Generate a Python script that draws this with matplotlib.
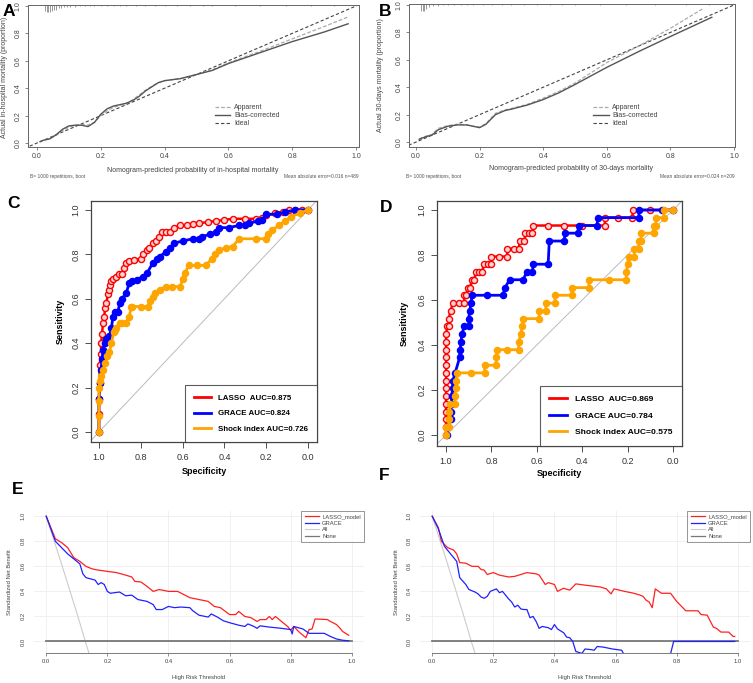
import matplotlib
matplotlib.use("Agg")
import matplotlib.pyplot as plt
from matplotlib.lines import Line2D
import numpy as np

plt.rcParams['font.family'] = ['Liberation Sans', 'DejaVu Sans']

W, H = 753, 683

# ---------------- calibration data (A: in-hospital, B: 30-days) ----------------
calA_x = [0.01, 0.02, 0.04, 0.06, 0.08, 0.10, 0.12, 0.14, 0.16, 0.18, 0.20, 0.22, 0.24, 0.26, 0.28,
          0.30, 0.32, 0.34, 0.36, 0.38, 0.40, 0.45, 0.50, 0.55, 0.60, 0.70, 0.80, 0.90, 0.975]
calA_bias = [0.01, 0.02, 0.03, 0.06, 0.10, 0.125, 0.13, 0.13, 0.12, 0.15, 0.21, 0.25, 0.27, 0.28, 0.29,
             0.31, 0.34, 0.38, 0.41, 0.44, 0.455, 0.47, 0.50, 0.53, 0.58, 0.66, 0.74, 0.81, 0.87]
calA_app = [0.01, 0.02, 0.035, 0.055, 0.09, 0.115, 0.13, 0.135, 0.13, 0.15, 0.20, 0.235, 0.26, 0.275, 0.29,
            0.315, 0.35, 0.385, 0.415, 0.44, 0.455, 0.47, 0.50, 0.535, 0.585, 0.67, 0.76, 0.85, 0.92]
rugA_x = [0.025, 0.030, 0.035, 0.041, 0.047, 0.053, 0.060, 0.068, 0.076, 0.085, 0.095, 0.105, 0.12,
          0.135, 0.15, 0.165, 0.18, 0.20, 0.22, 0.24, 0.26, 0.28, 0.31, 0.34, 0.37, 0.40, 0.44,
          0.48, 0.52, 0.55, 0.62, 0.70, 0.78, 0.86, 0.93]
rugA_len = [0.045, 0.05, 0.05, 0.05, 0.045, 0.04, 0.035, 0.025, 0.02, 0.018, 0.015, 0.012, 0.012,
            0.01, 0.01, 0.01, 0.01, 0.01, 0.01, 0.01, 0.01, 0.01, 0.01, 0.01, 0.01, 0.01, 0.01,
            0.01, 0.01, 0.01, 0.008, 0.008, 0.008, 0.008, 0.008]

calB_x = [0.01, 0.02, 0.04, 0.05, 0.07, 0.10, 0.13, 0.16, 0.18, 0.20, 0.22, 0.25, 0.28, 0.30,
          0.35, 0.40, 0.45, 0.50, 0.60, 0.70, 0.80, 0.93]
calB_bias = [0.02, 0.03, 0.045, 0.05, 0.09, 0.115, 0.125, 0.125, 0.115, 0.105, 0.13, 0.20, 0.23, 0.24,
             0.27, 0.31, 0.36, 0.42, 0.545, 0.66, 0.77, 0.91]
calB_x_app = [0.01, 0.02, 0.04, 0.05, 0.07, 0.10, 0.13, 0.16, 0.18, 0.20, 0.22, 0.25, 0.28, 0.30,
              0.35, 0.40, 0.45, 0.50, 0.60, 0.70, 0.80, 0.90]
calB_app = [0.02, 0.035, 0.05, 0.055, 0.10, 0.12, 0.13, 0.125, 0.115, 0.11, 0.135, 0.21, 0.235, 0.245,
            0.275, 0.32, 0.37, 0.43, 0.58, 0.70, 0.83, 0.97]
rugB_x = [0.016, 0.022, 0.026, 0.031, 0.042, 0.055, 0.07, 0.085, 0.10, 0.12, 0.14, 0.16, 0.18,
          0.21, 0.24, 0.27, 0.30, 0.34, 0.38, 0.42, 0.46, 0.50, 0.58, 0.66, 0.75, 0.85, 0.92]
rugB_len = [0.05, 0.05, 0.05, 0.035, 0.025, 0.015, 0.012, 0.01, 0.01, 0.01, 0.01, 0.01, 0.01,
            0.01, 0.01, 0.01, 0.01, 0.01, 0.01, 0.01, 0.01, 0.01, 0.008, 0.008, 0.008, 0.008, 0.008]

# ---------------- ROC data ----------------
c_lasso_spec = [1.0, 1.0, 1.0, 0.997, 0.997, 0.99, 0.99, 0.985, 0.981, 0.975, 0.97, 0.965, 0.957, 0.95,
                0.946, 0.94, 0.933, 0.92, 0.905, 0.89, 0.88, 0.87, 0.855, 0.83, 0.80, 0.79, 0.77, 0.76,
                0.74, 0.725, 0.715, 0.70, 0.68, 0.66, 0.64, 0.61, 0.58, 0.55, 0.52, 0.48, 0.44, 0.40,
                0.36, 0.30, 0.25, 0.22, 0.20, 0.16, 0.12, 0.09, 0.06, 0.03, 0.0]
c_lasso_sens = [0.0, 0.08, 0.15, 0.22, 0.30, 0.35, 0.40, 0.44, 0.49, 0.52, 0.56, 0.58, 0.62, 0.64,
                0.66, 0.68, 0.69, 0.70, 0.71, 0.71, 0.74, 0.76, 0.77, 0.775, 0.78, 0.80, 0.82, 0.83,
                0.85, 0.86, 0.88, 0.90, 0.90, 0.90, 0.92, 0.93, 0.93, 0.935, 0.94, 0.945, 0.95, 0.955,
                0.96, 0.96, 0.96, 0.965, 0.975, 0.985, 0.99, 1.0, 1.0, 1.0, 1.0]
c_grace_spec = [1.0, 1.0, 0.995, 0.99, 0.985, 0.98, 0.973, 0.965, 0.95, 0.94, 0.933, 0.925, 0.91, 0.90,
                0.89, 0.87, 0.855, 0.84, 0.82, 0.79, 0.77, 0.743, 0.72, 0.71, 0.68, 0.66, 0.64, 0.60,
                0.55, 0.52, 0.505, 0.47, 0.44, 0.425, 0.38, 0.33, 0.30, 0.28, 0.24, 0.22, 0.20, 0.15,
                0.11, 0.06, 0.0]
c_grace_sens = [0.0, 0.15, 0.22, 0.28, 0.33, 0.37, 0.40, 0.42, 0.43, 0.47, 0.52, 0.54, 0.54, 0.58,
                0.60, 0.625, 0.67, 0.68, 0.685, 0.70, 0.715, 0.76, 0.78, 0.79, 0.81, 0.83, 0.85, 0.86,
                0.87, 0.87, 0.88, 0.89, 0.90, 0.92, 0.92, 0.93, 0.93, 0.94, 0.95, 0.955, 0.98, 0.98,
                0.99, 1.0, 1.0]
c_shock_spec = [1.0, 1.0, 1.0, 1.0, 0.995, 0.99, 0.98, 0.97, 0.96, 0.95, 0.94, 0.93, 0.925, 0.92, 0.90,
                0.89, 0.87, 0.855, 0.845, 0.84, 0.80, 0.767, 0.755, 0.743, 0.73, 0.71, 0.68, 0.65,
                0.61, 0.60, 0.59, 0.57, 0.53, 0.49, 0.46, 0.445, 0.425, 0.39, 0.36, 0.33, 0.25, 0.20,
                0.19, 0.17, 0.14, 0.11, 0.08, 0.04, 0.0]
c_shock_sens = [0.0, 0.07, 0.14, 0.20, 0.23, 0.25, 0.28, 0.31, 0.34, 0.36, 0.40, 0.45, 0.46, 0.47, 0.49,
                0.49, 0.49, 0.52, 0.565, 0.565, 0.565, 0.565, 0.59, 0.61, 0.625, 0.64, 0.655, 0.655,
                0.655, 0.69, 0.715, 0.75, 0.75, 0.75, 0.78, 0.80, 0.82, 0.83, 0.835, 0.87, 0.87, 0.87,
                0.89, 0.91, 0.93, 0.95, 0.97, 0.985, 1.0]

# panel D stored as 1 - specificity
d_lasso_fpr = [0, 0, 0, 0, 0, 0, 0, 0, 0, 0, 0, 0, 0, 0, 0.005, 0.012, 0.012, 0.02, 0.03, 0.055, 0.08,
               0.08, 0.09, 0.095, 0.105, 0.115, 0.125, 0.13, 0.145, 0.16, 0.165, 0.185, 0.2, 0.2, 0.235,
               0.27, 0.27, 0.3, 0.32, 0.325, 0.345, 0.35, 0.365, 0.38, 0.385, 0.45, 0.52, 0.6, 0.70,
               0.70, 0.76, 0.82, 0.825, 0.9, 1.0]
d_lasso_sens = [0, 0.034, 0.069, 0.103, 0.138, 0.172, 0.207, 0.241, 0.276, 0.310, 0.345, 0.379, 0.414,
                0.448, 0.483, 0.483, 0.517, 0.552, 0.586, 0.586, 0.586, 0.621, 0.621, 0.655, 0.655,
                0.690, 0.690, 0.724, 0.724, 0.724, 0.759, 0.759, 0.759, 0.793, 0.793, 0.793, 0.828,
                0.828, 0.828, 0.862, 0.862, 0.897, 0.897, 0.897, 0.931, 0.931, 0.931, 0.931, 0.931,
                0.966, 0.966, 0.966, 1.0, 1.0, 1.0]
d_grace_fpr = [0.005, 0.005, 0.02, 0.02, 0.024, 0.024, 0.03, 0.03, 0.04, 0.06, 0.062, 0.066, 0.07,
               0.08, 0.1, 0.1, 0.104, 0.11, 0.115, 0.18, 0.25, 0.26, 0.28, 0.34, 0.355, 0.38, 0.385,
               0.45, 0.455, 0.52, 0.525, 0.58, 0.585, 0.665, 0.67, 0.85, 0.85, 0.95, 1.0]
d_grace_sens = [0, 0.034, 0.069, 0.103, 0.138, 0.172, 0.207, 0.241, 0.276, 0.345, 0.379, 0.414, 0.448,
                0.483, 0.483, 0.517, 0.552, 0.586, 0.621, 0.621, 0.621, 0.655, 0.690, 0.690, 0.724,
                0.724, 0.759, 0.759, 0.862, 0.862, 0.897, 0.897, 0.931, 0.931, 0.966, 0.966, 1.0, 1.0,
                1.0]
d_shock_fpr = [0, 0, 0.012, 0.012, 0.015, 0.018, 0.04, 0.04, 0.042, 0.045, 0.05, 0.11, 0.17, 0.17, 0.22,
               0.222, 0.225, 0.27, 0.32, 0.32, 0.33, 0.335, 0.34, 0.41, 0.41, 0.44, 0.44, 0.48, 0.48,
               0.555, 0.555, 0.63, 0.63, 0.72, 0.795, 0.795, 0.8, 0.805, 0.83, 0.83, 0.85, 0.85, 0.86,
               0.86, 0.915, 0.915, 0.925, 0.925, 0.96, 0.96, 1.0]
d_shock_sens = [0, 0.034, 0.034, 0.069, 0.103, 0.138, 0.138, 0.172, 0.207, 0.241, 0.276, 0.276, 0.276,
                0.310, 0.310, 0.345, 0.379, 0.379, 0.379, 0.414, 0.448, 0.483, 0.517, 0.517, 0.552,
                0.552, 0.586, 0.586, 0.621, 0.621, 0.655, 0.655, 0.690, 0.690, 0.690, 0.724, 0.759,
                0.793, 0.793, 0.828, 0.828, 0.862, 0.862, 0.897, 0.897, 0.931, 0.931, 0.966, 0.966,
                1.0, 1.0]

roc_labels_c = ["LASSO  AUC=0.875", "GRACE AUC=0.824", "Shock index AUC=0.726"]
roc_labels_d = ["LASSO  AUC=0.869", "GRACE AUC=0.784", "Shock index AUC=0.575"]

# ---------------- decision curve data ----------------
e_lasso_thr = [0, 0.03, 0.05, 0.07, 0.09, 0.11, 0.13, 0.15, 0.17, 0.20, 0.23, 0.26, 0.28, 0.29, 0.31,
               0.33, 0.35, 0.37, 0.40, 0.43, 0.45, 0.47, 0.50, 0.53, 0.55, 0.57, 0.60, 0.62, 0.63, 0.65,
               0.67, 0.69, 0.70, 0.72, 0.73, 0.74, 0.75, 0.77, 0.79, 0.80, 0.81, 0.83, 0.85, 0.86, 0.87,
               0.88, 0.92, 0.93, 0.95, 0.96, 0.97, 0.99]
e_lasso = [1.0, 0.82, 0.79, 0.75, 0.67, 0.64, 0.60, 0.58, 0.57, 0.56, 0.55, 0.53, 0.515, 0.48, 0.475,
           0.44, 0.40, 0.415, 0.40, 0.40, 0.375, 0.35, 0.335, 0.32, 0.28, 0.27, 0.215, 0.215, 0.24, 0.20,
           0.19, 0.16, 0.175, 0.175, 0.20, 0.175, 0.20, 0.16, 0.12, 0.09, 0.12, 0.07, 0.03, 0.095, 0.10,
           0.18, 0.175, 0.16, 0.135, 0.11, 0.08, 0.05]
e_grace_thr = [0, 0.03, 0.05, 0.07, 0.09, 0.11, 0.12, 0.13, 0.16, 0.17, 0.18, 0.19, 0.20, 0.21, 0.24,
               0.26, 0.28, 0.30, 0.33, 0.35, 0.36, 0.38, 0.40, 0.42, 0.44, 0.47, 0.48, 0.50, 0.53, 0.54,
               0.56, 0.58, 0.60, 0.63, 0.65, 0.66, 0.68, 0.69, 0.70, 0.73, 0.77, 0.80, 0.805, 0.81, 0.84,
               0.86, 0.91, 0.93, 0.95, 0.97, 0.99]
e_grace = [1.0, 0.80, 0.75, 0.70, 0.66, 0.62, 0.54, 0.51, 0.49, 0.455, 0.47, 0.455, 0.40, 0.385, 0.395,
           0.365, 0.37, 0.335, 0.32, 0.295, 0.255, 0.255, 0.28, 0.27, 0.275, 0.27, 0.245, 0.21, 0.195,
           0.22, 0.195, 0.165, 0.15, 0.13, 0.12, 0.14, 0.12, 0.105, 0.125, 0.115, 0.105, 0.095, 0.06,
           0.12, 0.10, 0.065, 0.065, 0.04, 0.02, 0.01, 0.005]
f_lasso_thr = [0, 0.02, 0.03, 0.05, 0.07, 0.08, 0.09, 0.11, 0.13, 0.15, 0.16, 0.17, 0.18, 0.20, 0.22,
               0.25, 0.27, 0.29, 0.31, 0.34, 0.35, 0.37, 0.38, 0.40, 0.41, 0.43, 0.45, 0.47, 0.50, 0.55,
               0.57, 0.585, 0.595, 0.63, 0.66, 0.68, 0.69, 0.70, 0.71, 0.72, 0.73, 0.75, 0.78, 0.80,
               0.83, 0.87, 0.88, 0.90, 0.92, 0.93, 0.945, 0.97, 0.985, 0.99]
f_lasso = [1.0, 0.91, 0.80, 0.75, 0.73, 0.70, 0.63, 0.625, 0.60, 0.60, 0.575, 0.57, 0.535, 0.55, 0.53,
           0.515, 0.52, 0.535, 0.55, 0.54, 0.53, 0.455, 0.47, 0.455, 0.40, 0.425, 0.41, 0.46, 0.45, 0.435,
           0.42, 0.38, 0.42, 0.40, 0.385, 0.37, 0.36, 0.33, 0.315, 0.27, 0.42, 0.385, 0.385, 0.32, 0.245,
           0.245, 0.215, 0.21, 0.115, 0.105, 0.075, 0.075, 0.04, 0.04]
f_grace_thr = [0, 0.02, 0.04, 0.06, 0.08, 0.09, 0.11, 0.12, 0.14, 0.15, 0.16, 0.17, 0.18, 0.19, 0.21,
               0.22, 0.23, 0.25, 0.26, 0.27, 0.28, 0.29, 0.30, 0.31, 0.32, 0.33, 0.34, 0.35, 0.36, 0.38,
               0.39, 0.40, 0.41, 0.43, 0.44, 0.45, 0.46, 0.47, 0.49, 0.50, 0.52, 0.53, 0.54, 0.56, 0.59,
               0.62, 0.64, 0.70, 0.75, 0.78, 0.79, 0.85, 0.99]
f_grace = [1.0, 0.90, 0.76, 0.70, 0.64, 0.51, 0.455, 0.415, 0.395, 0.38, 0.355, 0.345, 0.36, 0.40, 0.42,
           0.39, 0.40, 0.34, 0.315, 0.275, 0.29, 0.26, 0.255, 0.255, 0.19, 0.20, 0.16, 0.105, 0.12, 0.11,
           0.095, 0.135, 0.10, 0.07, 0.035, 0.03, 0.0, -0.08, -0.095, -0.06, -0.065, -0.07, -0.04,
           -0.045, -0.06, -0.07, -0.16, -0.25, -0.2, -0.1, 0.0, 0.0, 0.0]
all_thr = [0, 0.05, 0.10, 0.128, 0.16]
all_nb = [1.0, 0.62, 0.23, 0.0, -0.25]
none_thr = [0, 1]
none_nb = [0, 0]


fig = plt.figure(figsize=(W / 100, H / 100), dpi=100)


def add_ax(l, t, r, b):
    return fig.add_axes([l / W, 1 - b / H, (r - l) / W, (b - t) / H])


def ftext(x, y, s, **kw):
    fig.text(x / W, 1 - y / H, s, **kw)


# ---------------- calibration panels ----------------
def calib(ax, x, bias, xa, app, rx, rl, xlim, ylim):
    ax.plot([-0.2, 1.2], [-0.2, 1.2], color='#444444', lw=0.8, ls=(0, (3, 2)))
    ax.plot(xa, app, color='#aaaaaa', lw=0.9, ls=(0, (3, 1.5)))
    ax.plot(x, bias, color='#555555', lw=1.0)
    ax.vlines(rx, ylim[1] - np.array(rl), ylim[1], color='#888888', lw=0.6)
    ax.set_xlim(*xlim)
    ax.set_ylim(*ylim)
    ax.set_xticks([0, 0.2, 0.4, 0.6, 0.8, 1.0])
    ax.set_yticks([0, 0.2, 0.4, 0.6, 0.8, 1.0])
    ax.set_xticklabels(['0.0', '0.2', '0.4', '0.6', '0.8', '1.0'])
    ax.set_yticklabels(['0.0', '0.2', '0.4', '0.6', '0.8', '1.0'], rotation=90, va='center')
    ax.tick_params(labelsize=5, length=2.5, width=0.5, pad=2, colors='#555555', labelcolor='#444444')
    for s in ax.spines.values():
        s.set_color('#666666')
        s.set_linewidth(0.7)
    h = [Line2D([], [], color='#aaaaaa', lw=0.9, ls=(0, (3, 1.5))),
         Line2D([], [], color='#555555', lw=1.0),
         Line2D([], [], color='#444444', lw=0.8, ls=(0, (3, 2)))]
    ax.legend(h, ['Apparent', 'Bias-corrected', 'Ideal'], loc='upper left',
              bbox_to_anchor=(0.555, 0.325), frameon=False, fontsize=5, handlelength=2.2,
              handletextpad=0.5, labelspacing=0.15, borderpad=0, labelcolor='#444444')


axA = add_ax(28, 5, 359, 147)
calib(axA, calA_x, calA_bias, calA_x, calA_app, rugA_x, rugA_len, (-0.028, 1.009), (-0.029, 1.007))
axB = add_ax(409, 4, 735, 147)
calib(axB, calB_x, calB_bias, calB_x_app, calB_app, rugB_x, rugB_len, (-0.022, 1.003), (-0.036, 1.007))

ftext(5, 77, 'Actual in-hospital mortality (proportion)', rotation=90, ha='center', va='center',
      fontsize=5, color='#444444')
ftext(193, 171, 'Nomogram-predicted probability of in-hospital mortality', ha='center', va='center',
      fontsize=5, color='#444444')
ftext(30, 177, 'B= 1000 repetitions, boot', ha='left', va='center', fontsize=3.5, color='#555555')
ftext(359, 177, 'Mean absolute error=0.016 n=489', ha='right', va='center', fontsize=3.5, color='#555555')
ftext(381, 75, 'Actual 30-days mortality (proportion)', rotation=90, ha='center', va='center',
      fontsize=5, color='#444444')
ftext(571, 169, 'Nomogram-predicted probability of 30-days mortality', ha='center', va='center',
      fontsize=5, color='#444444')
ftext(406, 177, 'B= 1000 repetitions, boot', ha='left', va='center', fontsize=3.5, color='#555555')
ftext(735, 177, 'Mean absolute error=0.024 n=209', ha='right', va='center', fontsize=3.5, color='#555555')


# ---------------- ROC panels ----------------
def roc(ax, curves, labels, xlim, ylim, fs):
    ax.plot([1.2, -0.2], [-0.2, 1.2], color='#bbbbbb', lw=0.7)
    cols = ['red', 'blue', 'orange']
    for (sp, se), c in zip(curves, cols):
        if c == 'red':
            ax.plot(sp, se, color=c, lw=1.8, marker='o', ms=4.4, mfc='#f2d6d6', mec=c, mew=1.0)
        else:
            ax.plot(sp, se, color=c, lw=2.0, marker='o', ms=4.4, mfc=c, mec=c)
    ax.set_xlim(*xlim)
    ax.set_ylim(*ylim)
    ax.set_xticks([1.0, 0.8, 0.6, 0.4, 0.2, 0.0])
    ax.set_xticklabels(['1.0', '0.8', '0.6', '0.4', '0.2', '0.0'])
    ax.set_yticks([0, 0.2, 0.4, 0.6, 0.8, 1.0])
    ax.set_yticklabels(['0.0', '0.2', '0.4', '0.6', '0.8', '1.0'], rotation=90, va='center')
    ax.tick_params(labelsize=6.5, length=4.3, width=0.6, pad=3.5, colors='#333333')
    for s in ax.spines.values():
        s.set_color('#444444')
        s.set_linewidth(0.9)
    h = [Line2D([], [], color=c, lw=2) for c in cols]
    leg = ax.legend(h, labels, loc='lower right', bbox_to_anchor=(1, 0), borderaxespad=0,
                    fancybox=False, edgecolor='#333333', handlelength=2.1,
                    handletextpad=0.9, labelspacing=1.0, borderpad=1.15,
                    prop={'weight': 'bold', 'size': fs})
    leg.get_frame().set_linewidth(0.8)


axC = add_ax(91, 201, 317, 442)
roc(axC, [(c_lasso_spec, c_lasso_sens), (c_grace_spec, c_grace_sens), (c_shock_spec, c_shock_sens)],
    roc_labels_c, (1.038, -0.043), (-0.045, 1.04), 5.7)
axD = add_ax(437, 201, 682, 446)
roc(axD, [(1 - np.array(d_lasso_fpr), d_lasso_sens), (1 - np.array(d_grace_fpr), d_grace_sens),
          (1 - np.array(d_shock_fpr), d_shock_sens)],
    roc_labels_d, (1.04, -0.04), (-0.049, 1.04), 6.1)

ftext(60, 321, 'Sensitivity', rotation=90, ha='center', va='center', fontsize=6.5, fontweight='bold')
ftext(204, 471, 'Specificity', ha='center', va='center', fontsize=6.5, fontweight='bold')
ftext(404, 323, 'Sensitivity', rotation=90, ha='center', va='center', fontsize=6.5, fontweight='bold')
ftext(559, 474, 'Specificity', ha='center', va='center', fontsize=6.5, fontweight='bold')


# ---------------- decision curve panels ----------------
def dca(ax, lt, lv, gt, gv):
    ax.grid(True, color='#eeeeee', lw=0.6)
    ax.set_axisbelow(True)
    ax.plot(all_thr, all_nb, color='#cccccc', lw=0.8)
    ax.plot(none_thr, none_nb, color='#777777', lw=1.3)
    ax.plot(lt, lv, color='#ff2020', lw=0.9)
    ax.plot(gt, gv, color='#2020ff', lw=0.9)
    ax.set_xlim(-0.04, 1.04)
    ax.set_ylim(-0.092, 1.042)
    ax.set_xticks([0, 0.2, 0.4, 0.6, 0.8, 1.0])
    ax.set_xticklabels(['0.0', '0.2', '0.4', '0.6', '0.8', '1.0'])
    ax.set_yticks([0, 0.2, 0.4, 0.6, 0.8, 1.0])
    ax.set_yticklabels(['0.0', '0.2', '0.4', '0.6', '0.8', '1.0'], rotation=90, va='center')
    for k in ['top', 'right', 'left']:
        ax.spines[k].set_visible(False)
    ax.spines['bottom'].set_bounds(0, 1)
    ax.spines['bottom'].set_color('#666666')
    ax.spines['bottom'].set_linewidth(0.6)
    ax.tick_params(axis='x', labelsize=4.2, length=2.5, width=0.5, pad=2, colors='#666666',
                   labelcolor='#444444')
    ax.tick_params(axis='y', labelsize=4.2, length=0, pad=6, labelcolor='#444444')
    h = [Line2D([], [], color='#ff2020', lw=0.9), Line2D([], [], color='#2020ff', lw=0.9),
         Line2D([], [], color='#cccccc', lw=0.8), Line2D([], [], color='#777777', lw=0.9)]
    leg = ax.legend(h, ['LASSO_model', 'GRACE', 'All', 'None'], loc='upper right', borderaxespad=0,
                    fancybox=False, edgecolor='#666666', fontsize=4.2, handlelength=2.4,
                    handletextpad=0.6, labelspacing=0.25, borderpad=0.55, labelcolor='#444444')
    leg.get_frame().set_linewidth(0.6)


axE = add_ax(34, 511, 364, 653)
dca(axE, e_lasso_thr, e_lasso, e_grace_thr, e_grace)
axF = add_ax(420, 511, 750, 653)
dca(axF, f_lasso_thr, f_lasso, f_grace_thr, f_grace)

ftext(10, 582, 'Standardized Net Benefit', rotation=90, ha='center', va='center', fontsize=4.2,
      color='#444444')
ftext(199, 677, 'High Risk Threshold', ha='center', va='center', fontsize=4.2, color='#444444')
ftext(396, 582, 'Standardized Net Benefit', rotation=90, ha='center', va='center', fontsize=4.2,
      color='#444444')
ftext(585, 677, 'High Risk Threshold', ha='center', va='center', fontsize=4.2, color='#444444')

# panel letters
for lab, x, y in [('A', 9, 12), ('B', 385, 12), ('C', 14, 204), ('D', 386, 207), ('E', 18, 490),
                  ('F', 384, 476)]:
    ftext(x, y, lab, ha='center', va='center', fontsize=12.5, fontweight='bold')

fig.savefig('out.png', dpi=100)
